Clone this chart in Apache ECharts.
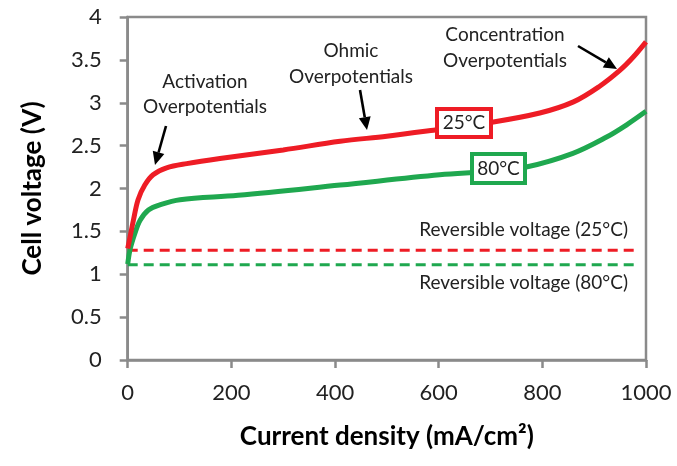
<!DOCTYPE html>
<html><head><meta charset="utf-8">
<script src="https://cdn.jsdelivr.net/npm/echarts@6/dist/echarts.min.js"></script>
<style>html,body{margin:0;padding:0;background:#fff}#c{width:677px;height:466px}</style>
</head><body><div id="c"></div>
<script>
const x25 = [0, 5, 11, 20, 33, 49, 75, 114, 178, 300, 410, 500, 590, 700, 795, 860, 910, 950, 975, 1000];
const v25 = [1.30, 1.45, 1.63, 1.87, 2.04, 2.16, 2.24, 2.29, 2.35, 2.45, 2.55, 2.61, 2.68, 2.77, 2.88, 3.01, 3.19, 3.38, 3.53, 3.71];
const x80 = [0, 5, 14, 24, 40, 62, 101, 213, 410, 602, 700, 769, 859, 924, 962, 1000];
const v80 = [1.12, 1.30, 1.48, 1.63, 1.75, 1.81, 1.87, 1.92, 2.04, 2.16, 2.20, 2.25, 2.41, 2.60, 2.74, 2.90];
const revX = [0, 985];
const rev25 = 1.28;
const rev80 = 1.11;
const xTicks = [0, 200, 400, 600, 800, 1000];
const yTicks = [0, 0.5, 1, 1.5, 2, 2.5, 3, 3.5, 4];

const RED = '#ee1c25', GREEN = '#1fa84f', AX = '#8a8a8a', TXT = '#222';
const FONT = 'Lato';

function arrow(x1, y1, x2, y2) {
  const L = 13, W = 6;
  const dx = x2 - x1, dy = y2 - y1, d = Math.hypot(dx, dy);
  const ux = dx / d, uy = dy / d;
  const bx = x2 - ux * L, by = y2 - uy * L;
  return [
    { type: 'line', shape: { x1: x1, y1: y1, x2: bx, y2: by }, style: { stroke: '#000', lineWidth: 2.6 } },
    { type: 'polygon', shape: { points: [[x2, y2], [bx - uy * W, by + ux * W], [bx + uy * W, by - ux * W]] }, style: { fill: '#000' } }
  ];
}
function txt(x, y, text, align) {
  return { type: 'text', x: x, y: y, style: { text: text, fill: TXT, font: '19px ' + FONT, align: align || 'center', verticalAlign: 'middle' } };
}

const chart = echarts.init(document.getElementById('c'), null, { renderer: 'canvas' });
chart.setOption({
  animation: false,
  backgroundColor: '#fff',
  grid: { left: 127.7, right: 31, top: 17, bottom: 106, show: true, borderColor: AX, borderWidth: 2.5 },
  xAxis: {
    type: 'value', min: 0, max: 1000, interval: 200,
    name: 'Current density (mA/cm²)', nameLocation: 'middle', nameGap: 64,
    nameTextStyle: { fontFamily: FONT, fontWeight: 'bold', fontSize: 26, color: '#000' },
    axisLine: { show: true, lineStyle: { color: AX, width: 2.5 } },
    axisTick: { show: true, inside: false, length: 8, lineStyle: { color: AX, width: 2.5 } },
    axisLabel: { color: TXT, fontFamily: FONT, fontSize: 22, margin: 22, formatter: v => xTicks.includes(v) ? String(v) : '' },
    splitLine: { show: false }
  },
  yAxis: {
    type: 'value', min: 0, max: 4, interval: 0.5,
    name: 'Cell voltage (V)', nameLocation: 'middle', nameGap: 82,
    nameTextStyle: { fontFamily: FONT, fontWeight: 'bold', fontSize: 26, color: '#000' },
    axisLine: { show: true, lineStyle: { color: AX, width: 2.5 } },
    axisTick: { show: true, inside: false, length: 8, lineStyle: { color: AX, width: 2.5 } },
    axisLabel: { color: TXT, fontFamily: FONT, fontSize: 22, margin: 26, formatter: v => yTicks.includes(v) ? String(v) : '' },
    splitLine: { show: false }
  },
  series: [
    { type: 'line', name: 'rev25', data: revX.map(x => [x, rev25]), symbol: 'none', lineStyle: { color: RED, width: 3, type: [10, 6] }, z: 2 },
    { type: 'line', name: 'rev80', data: revX.map(x => [x, rev80]), symbol: 'none', lineStyle: { color: GREEN, width: 3, type: [10, 6] }, z: 2 },
    { type: 'line', name: '80°C', data: x80.map((x, i) => [x, v80[i]]), symbol: 'none', smooth: 0.35, lineStyle: { color: GREEN, width: 5 }, z: 3 },
    { type: 'line', name: '25°C', data: x25.map((x, i) => [x, v25[i]]), symbol: 'none', smooth: 0.35, lineStyle: { color: RED, width: 5 }, z: 3 }
  ],
  graphic: [].concat(
    arrow(166, 126, 155, 165),
    arrow(360, 90, 367, 130),
    arrow(578, 46, 617, 69),
    [
      txt(205, 82, 'Activation'),
      txt(205, 107, 'Overpotentials'),
      txt(351, 51, 'Ohmic'),
      txt(351, 77, 'Overpotentials'),
      txt(505, 35, 'Concentration'),
      txt(505, 61, 'Overpotentials'),
      txt(628, 230, 'Reversible voltage (25°C)', 'right'),
      txt(628, 283, 'Reversible voltage (80°C)', 'right'),
      { type: 'rect', shape: { x: 437, y: 109, width: 54, height: 28 }, style: { fill: '#fff', stroke: RED, lineWidth: 4 }, z: 50 },
      { type: 'text', x: 464, y: 123, style: { text: '25°C', fill: TXT, font: '19px ' + FONT, align: 'center', verticalAlign: 'middle' }, z: 51 },
      { type: 'rect', shape: { x: 472, y: 154, width: 53, height: 29 }, style: { fill: '#fff', stroke: GREEN, lineWidth: 4 }, z: 50 },
      { type: 'text', x: 498.5, y: 168.5, style: { text: '80°C', fill: TXT, font: '19px ' + FONT, align: 'center', verticalAlign: 'middle' }, z: 51 }
    ]
  )
});
</script></body></html>
